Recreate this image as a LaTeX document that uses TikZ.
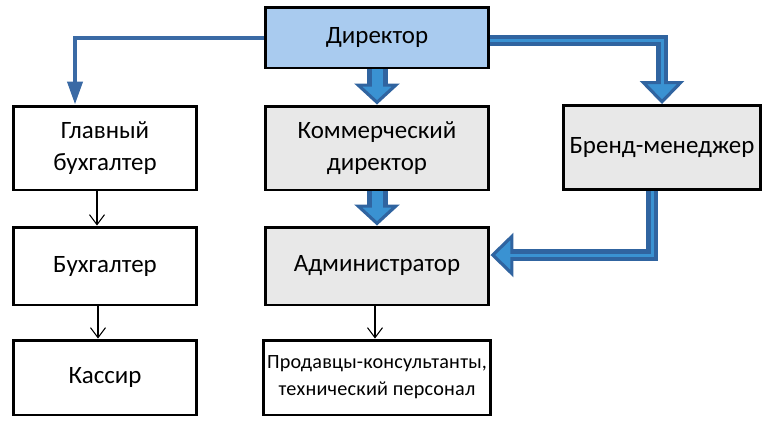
\documentclass[tikz,border=0pt]{standalone}
\usepackage{fontspec}
\setmainfont{Carlito}
\newfontfamily\spacedfont[LetterSpace=1]{Carlito}
\usetikzlibrary{arrows.meta}
\definecolor{dirblue}{HTML}{A9CBEF}
\definecolor{boxgrey}{HTML}{E8E8E8}
\definecolor{arrdark}{HTML}{3064A0}
\definecolor{arrlight}{HTML}{3A92D2}
\definecolor{lineblue}{HTML}{3A6AA5}
\begin{document}
\begin{tikzpicture}[x=0.02cm,y=-0.02cm]
        \tikzstyle{staff}=[rectangle,draw=black,line width=1.7pt,align=center,font=\fontsize{14.2}{18.5}\selectfont,inner sep=2pt]
        \tikzstyle{wide}=[staff,minimum width=4.48cm]
        \tikzstyle{narrow}=[staff,minimum width=3.66cm]
        \tikzstyle{bigarrow}=[draw=arrdark,line width=0.42cm,-{Triangle[width=0.9cm,length=0.42cm,fill=arrlight,line width=1.8pt]},postaction={draw=arrlight,line width=0.22cm,-,shorten >=0.25cm}]
        \tikzstyle{bentarrow}=[draw=arrdark,line width=0.23cm,-{Triangle[width=0.88cm,length=0.46cm,fill=arrlight,line width=1.8pt]},postaction={draw=arrlight,line width=0.06cm,-,shorten >=0.25cm}]
        \tikzstyle{thinarrow}=[draw=lineblue,line width=0.08cm,-{Triangle[width=0.3cm,length=0.46cm]}]
        \tikzstyle{link}=[draw,line width=0.6pt,-{Straight Barb[length=0.2cm,width=0.3cm]}]
        \useasboundingbox (0,0) rectangle (767,424);

        \node [wide,fill=dirblue,minimum height=1.22cm] (dir) at (377,37.5) {\raisebox{-2pt}{Директор}};
        \node [narrow,minimum height=1.68cm] (glav) at (105,148) {Главный\\бухгалтер};
        \node [wide,fill=boxgrey,minimum height=1.68cm] (komm) at (377,148) {Коммерческий\\директор};
        \node [staff,fill=boxgrey,minimum width=3.94cm,minimum height=1.68cm] (brend) at (662,147.5) {Бренд-менеджер};
        \node [narrow,minimum height=1.56cm] (buh) at (105,266) {Бухгалтер};
        \node [wide,fill=boxgrey,minimum height=1.56cm] (adm) at (377,266) {Администратор};
        \node [narrow,minimum height=1.5cm] (kas) at (105,377.5) {Кассир};
        \node [wide,minimum height=1.5cm,font=\spacedfont\fontsize{11.5}{15.3}\selectfont] (prod) at (377,377.5) {Продавцы-консультанты,\\технический персонал};

        \path[thinarrow] (dir.west) -| ([xshift=-0.6cm]glav.north);
        \path[bigarrow] (dir.south) -- (komm.north);
        \path[bentarrow] ([yshift=-0.06cm]dir.east) -| (brend.north);
        \path[bigarrow] (komm.south) -- (adm.north);
        \path[bentarrow] ([xshift=-0.2cm]brend.south) |- ([yshift=0.22cm]adm.east);

        \path[link] ([xshift=-0.16cm]glav.south) -- ([xshift=-0.16cm]buh.north);
        \path[link] ([xshift=-0.14cm]buh.south) -- ([xshift=-0.14cm]kas.north);
        \path[link] ([xshift=-0.04cm]adm.south) -- ([xshift=-0.04cm]prod.north);
\end{tikzpicture}
\end{document}
